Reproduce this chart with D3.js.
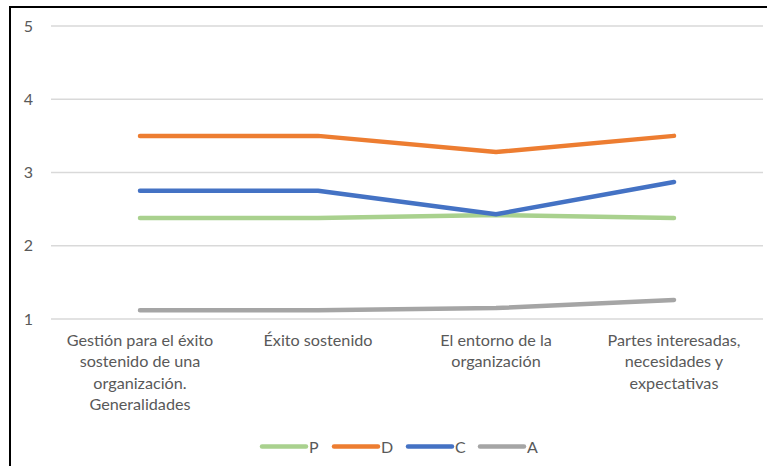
<!DOCTYPE html>
<html>
<head>
<meta charset="utf-8">
<script src="https://cdn.jsdelivr.net/npm/d3@7"></script>
<style>
  html, body { margin: 0; padding: 0; background: #fff; }
  svg { display: block; }
  text { font-family: Lato, "Open Sans", sans-serif; fill: #595959; }
</style>
</head>
<body>
<svg id="chart" width="767" height="466"></svg>
<script>
// Categories (multi-line labels) and the four series
const categories = [
  ["Gestión para el éxito", "sostenido de una", "organización.", "Generalidades"],
  ["Éxito sostenido"],
  ["El entorno de la", "organización"],
  ["Partes interesadas,", "necesidades y", "expectativas"]
];
const seriesNames = ["P", "D", "C", "A"];
const valuesP = [2.38, 2.38, 2.42, 2.38];
const valuesD = [3.50, 3.50, 3.28, 3.50];
const valuesC = [2.75, 2.75, 2.43, 2.87];
const valuesA = [1.12, 1.12, 1.15, 1.26];
const yTicks = [1, 2, 3, 4, 5];
const colors = ["#A9D18E", "#ED7D31", "#4472C4", "#A5A5A5"];

const series = [valuesP, valuesD, valuesC, valuesA].map((v, i) => ({
  name: seriesNames[i], values: v, color: colors[i]
}));

const svg = d3.select("#chart");
const W = 767, H = 466;

// Frame edges (top and left)
svg.append("line").attr("x1", 9).attr("x2", W).attr("y1", 7).attr("y2", 7)
  .attr("stroke", "#000").attr("stroke-width", 2);
svg.append("line").attr("x1", 10).attr("x2", 10).attr("y1", 6).attr("y2", H)
  .attr("stroke", "#000").attr("stroke-width", 2);

const plotLeft = 51, plotRight = 763;
const x = d3.scalePoint()
  .domain(d3.range(categories.length))
  .range([plotLeft, plotRight])
  .padding(0.5);
const y = d3.scaleLinear().domain([1, 5]).range([319, 26]);

// Gridlines
svg.append("g").selectAll("line").data(yTicks).join("line")
  .attr("x1", plotLeft).attr("x2", plotRight)
  .attr("y1", d => y(d)).attr("y2", d => y(d))
  .attr("stroke", "#D9D9D9").attr("stroke-width", 1.5);

// Y axis labels
const yAxis = d3.axisLeft(y).tickValues(yTicks).tickSize(0).tickPadding(0).tickFormat(d3.format("d"));
const gy = svg.append("g").attr("transform", `translate(${33},0)`).call(yAxis);
gy.select(".domain").remove();
gy.selectAll("text").attr("font-size", 16).attr("fill", "#595959")
  .style("font-family", "Lato, 'Open Sans', sans-serif");

// Category labels
const catG = svg.append("g");
categories.forEach((lines, i) => {
  const t = catG.append("text")
    .attr("x", x(i)).attr("y", 346)
    .attr("text-anchor", "middle").attr("font-size", 16.2);
  lines.forEach((ln, j) => {
    t.append("tspan").attr("x", x(i)).attr("dy", j === 0 ? 0 : 21.3).text(ln);
  });
});

// Series lines
const line = d3.line().x((d, i) => x(i)).y(d => y(d));
svg.append("g").selectAll("path").data(series).join("path")
  .attr("d", d => line(d.values))
  .attr("fill", "none")
  .attr("stroke", d => d.color)
  .attr("stroke-width", 4.5)
  .attr("stroke-linecap", "round")
  .attr("stroke-linejoin", "round");

// Legend
const legendX = [262, 334, 408, 480];
const legendY = 446.5;
const lg = svg.append("g").selectAll("g").data(series).join("g")
  .attr("transform", (d, i) => `translate(${legendX[i]},${legendY})`);
lg.append("line").attr("x1", 0).attr("x2", 44).attr("y1", 0).attr("y2", 0)
  .attr("stroke", d => d.color).attr("stroke-width", 4.5).attr("stroke-linecap", "round");
lg.append("text").attr("x", 47).attr("y", 6).attr("font-size", 16).text(d => d.name);
</script>
</body>
</html>
